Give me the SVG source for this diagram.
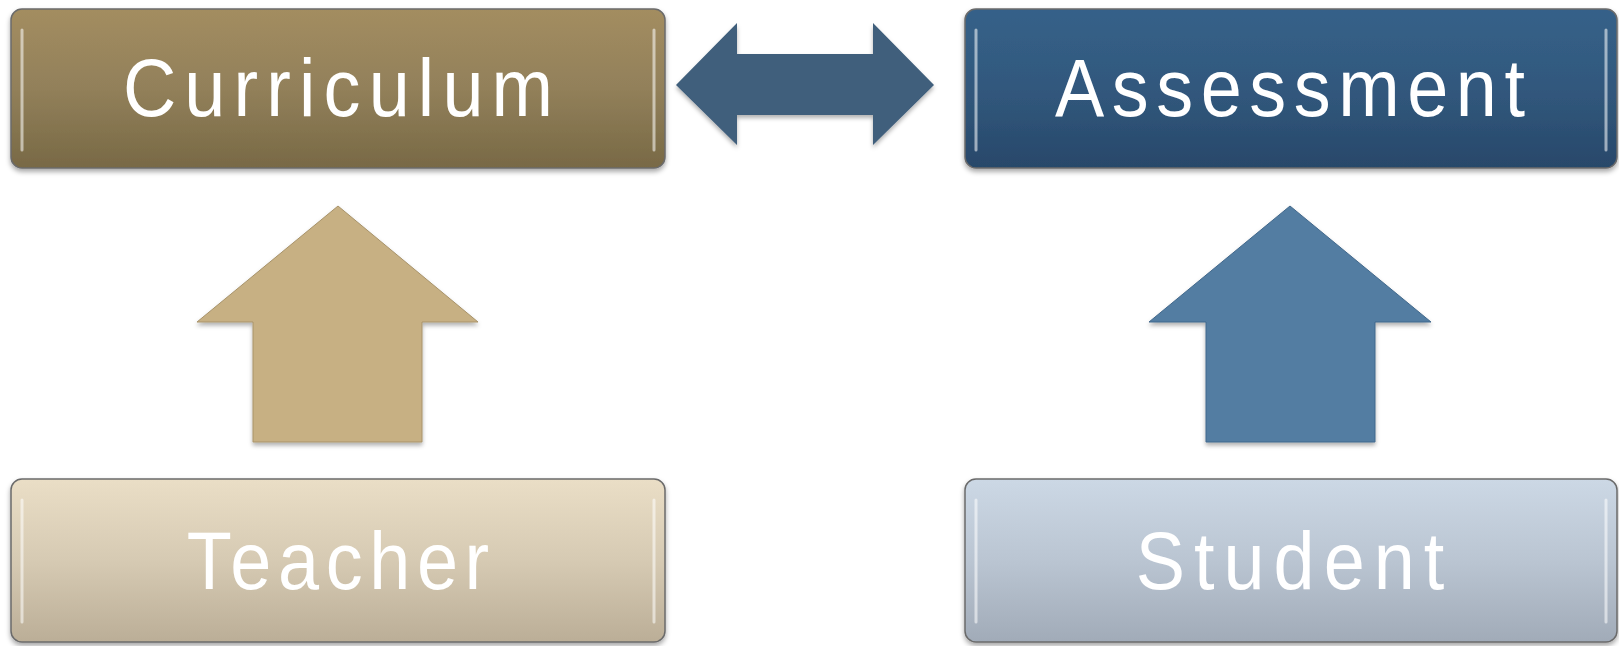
<svg xmlns="http://www.w3.org/2000/svg" width="1619" height="646" viewBox="0 0 1619 646">
<defs>
<linearGradient id="gCur" x1="0" y1="0" x2="0" y2="1"><stop offset="0" stop-color="#A38D60"/><stop offset="0.5" stop-color="#92805A"/><stop offset="1" stop-color="#786945"/></linearGradient>
<linearGradient id="gAss" x1="0" y1="0" x2="0" y2="1"><stop offset="0" stop-color="#366189"/><stop offset="0.5" stop-color="#31587D"/><stop offset="1" stop-color="#28486A"/></linearGradient>
<linearGradient id="gTea" x1="0" y1="0" x2="0" y2="1"><stop offset="0" stop-color="#EADEC6"/><stop offset="0.5" stop-color="#D6CAB3"/><stop offset="1" stop-color="#BBAE97"/></linearGradient>
<linearGradient id="gStu" x1="0" y1="0" x2="0" y2="1"><stop offset="0" stop-color="#CCD8E5"/><stop offset="0.5" stop-color="#BAC5D2"/><stop offset="1" stop-color="#A1ABB8"/></linearGradient>
<filter id="sh" x="-5%" y="-10%" width="110%" height="125%"><feDropShadow dx="0" dy="3" stdDeviation="2.5" flood-color="#000" flood-opacity="0.35"/></filter>
<filter id="shA" x="-10%" y="-10%" width="120%" height="125%"><feDropShadow dx="0" dy="3" stdDeviation="2" flood-color="#000" flood-opacity="0.3"/></filter>
</defs>
<style>
.box{stroke:#6b6b6b;stroke-width:1.5;filter:url(#sh)}
.hl{fill:none;stroke:#fff;stroke-opacity:0.55;stroke-width:3;stroke-linecap:round}
.lbl{font-family:"Liberation Sans",Arial,sans-serif;font-size:82px;fill:#fff;text-anchor:middle}
.arr{filter:url(#shA)}
</style>
<rect width="1619" height="646" fill="#fff"/>
<g id="connectors">
<path class="arr" d="M676,85 L737,23 L737,54 L873,54 L873,23 L934,85 L873,145 L873,115 L737,115 L737,145 Z" fill="#3F5E7B"/>
<path class="arr" d="M338,206 L478,322 L422,322 L422,442 L253,442 L253,322 L197,322 Z" fill="#C7B083" stroke="#A8936A" stroke-width="1"/>
<path class="arr" d="M1290,206 L1431,322 L1375,322 L1375,442 L1206,442 L1206,322 L1149,322 Z" fill="#527DA2" stroke="#43698C" stroke-width="1"/>
</g>
<g id="curriculum">
<rect class="box" x="11" y="9" width="654" height="159" rx="11" fill="url(#gCur)"/>
<path class="hl" d="M22,30 L22,150 M654,30 L654,150"/>
<text class="lbl" transform="translate(338,116) scale(0.9,1)" x="0" y="0" textLength="478" lengthAdjust="spacing">Curriculum</text>
</g>
<g id="assessment">
<rect class="box" x="965" y="9" width="652" height="159" rx="11" fill="url(#gAss)"/>
<path class="hl" d="M976,30 L976,150 M1606,30 L1606,150" stroke-opacity="0.35"/>
<text class="lbl" transform="translate(1290,116) scale(0.9,1)" x="0" y="0" textLength="522" lengthAdjust="spacing">Assessment</text>
</g>
<g id="teacher">
<rect class="box" x="11" y="479" width="654" height="163" rx="11" fill="url(#gTea)"/>
<path class="hl" d="M22,500 L22,622 M654,500 L654,622" stroke-opacity="0.8"/>
<text class="lbl" transform="translate(338,589) scale(0.9,1)" x="0" y="0" textLength="336" lengthAdjust="spacing">Teacher</text>
</g>
<g id="student">
<rect class="box" x="965" y="479" width="652" height="163" rx="11" fill="url(#gStu)"/>
<path class="hl" d="M976,500 L976,622 M1606,500 L1606,622" stroke-opacity="0.8"/>
<text class="lbl" transform="translate(1290,589) scale(0.9,1)" x="0" y="0" textLength="343" lengthAdjust="spacing">Student</text>
</g>
</svg>
